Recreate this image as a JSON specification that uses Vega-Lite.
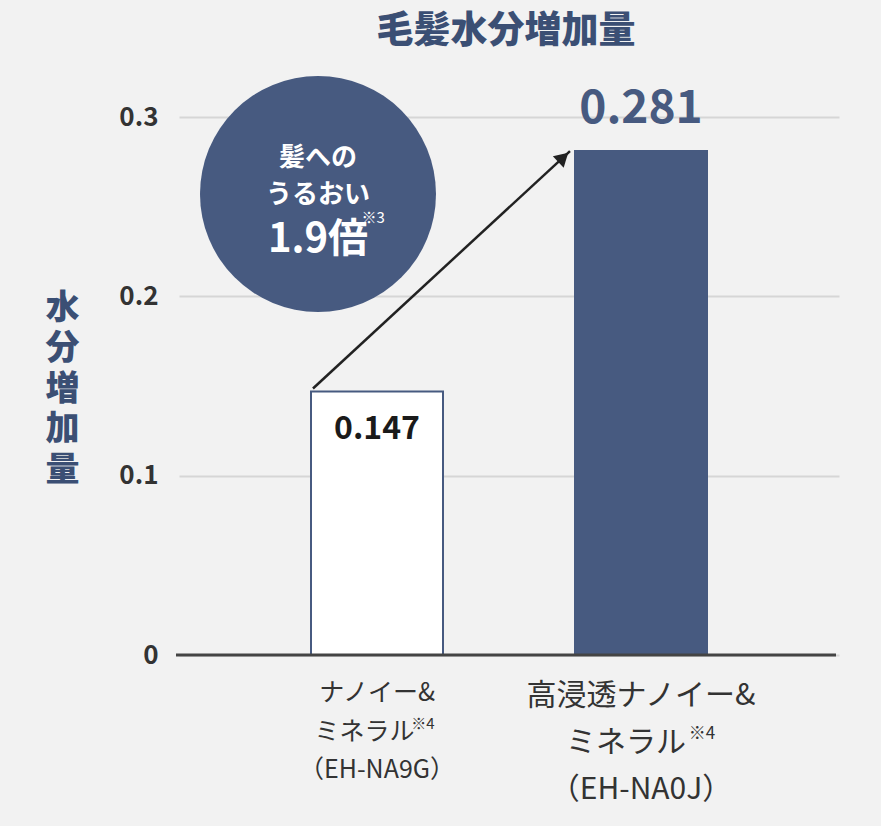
{
  "$schema": "https://vega.github.io/schema/vega-lite/v6.json",
  "width": 660,
  "height": 538,
  "autosize": {"type": "none"},
  "padding": {"left": 176, "top": 117, "right": 45, "bottom": 171},
  "background": "#f2f2f2",
  "config": {"view": {"stroke": null}, "font": "Noto Sans CJK JP"},
  "title": {"text": "毛髪水分増加量", "frame": "group", "anchor": "middle", "fontSize": 37, "fontWeight": 900, "color": "#3b4f74", "offset": 25, "font": "Noto Sans CJK JP"},
  "data": {"values": [
    {"product": "EH-NA9G", "value": 0.147, "label": ["ナノイー&", "ミネラル　\u200b", "（EH-NA9G）"], "note": "※4"},
    {"product": "EH-NA0J", "value": 0.281, "label": ["高浸透ナノイー&", "ミネラル　\u200b", "（EH-NA0J）"], "note": "※4"}
  ]},
  "encoding": {
    "x": {"field": "product", "type": "nominal", "sort": null, "scale": {"paddingInner": 0.5, "paddingOuter": 0.5, "range": [3, 663]}, "axis": null}
  },
  "layer": [
    {
      "mark": {"type": "bar", "stroke": "#475a80", "strokeWidth": 2},
      "encoding": {
        "y": {"field": "value", "type": "quantitative", "scale": {"domain": [0, 0.3]},
          "axis": {"values": [0, 0.1, 0.2, 0.3], "labelExpr": "datum.value == 0 ? '0' : format(datum.value, '.1f')", "labelFontSize": 26, "labelFontWeight": "bold", "labelColor": "#333333", "labelPadding": 18, "ticks": false, "domain": false, "gridColor": "#d6d6d6", "gridWidth": 2,
            "title": ["水", "分", "増", "加", "量"], "titleAngle": 0, "titleFontSize": 34, "titleLineHeight": 40.5, "titleColor": "#3b4f74", "titleFontWeight": 900, "titleX": -114, "titleY": 191, "titleAlign": "center", "titleBaseline": "middle"}},
        "fill": {"condition": {"test": "datum.product == 'EH-NA9G'", "value": "#ffffff"}, "value": "#475a80"}
      }
    },
    {
      "data": {"values": [{}]},
      "mark": {"type": "rule", "color": "#444444", "strokeWidth": 3},
      "encoding": {"x": null, "y": {"datum": 0}}
    },
    {
      "transform": [{"filter": "datum.product == 'EH-NA9G'"}],
      "mark": {"type": "text", "fontSize": 32, "fontWeight": "bold", "color": "#1a1a1a", "baseline": "middle", "dy": 38},
      "encoding": {"y": {"field": "value", "type": "quantitative"}, "text": {"field": "value", "type": "quantitative", "format": ".3f"}}
    },
    {
      "transform": [{"filter": "datum.product == 'EH-NA0J'"}],
      "mark": {"type": "text", "fontSize": 46, "fontWeight": "bold", "color": "#475a80", "baseline": "middle", "dy": -42},
      "encoding": {"y": {"field": "value", "type": "quantitative"}, "text": {"field": "value", "type": "quantitative", "format": ".3f"}}
    },
    {
      "transform": [{"filter": "datum.product == 'EH-NA9G'"}],
      "mark": {"type": "text", "fontSize": 25, "lineHeight": 38.5, "color": "#333333", "baseline": "middle", "dy": 38},
      "encoding": {"y": {"datum": 0}, "text": {"field": "label", "type": "nominal"}}
    },
    {
      "transform": [{"filter": "datum.product == 'EH-NA9G'"}],
      "mark": {"type": "text", "fontSize": 15, "color": "#333333", "baseline": "middle", "dy": 69},
      "encoding": {"x": {"field": "product", "type": "nominal", "sort": null, "bandPosition": 0.848}, "y": {"datum": 0}, "text": {"field": "note", "type": "nominal"}}
    },
    {
      "transform": [{"filter": "datum.product == 'EH-NA0J'"}],
      "mark": {"type": "text", "fontSize": 30, "lineHeight": 47, "color": "#333333", "baseline": "middle", "dy": 41},
      "encoding": {"y": {"datum": 0}, "text": {"field": "label", "type": "nominal"}}
    },
    {
      "transform": [{"filter": "datum.product == 'EH-NA0J'"}],
      "mark": {"type": "text", "fontSize": 17, "color": "#333333", "baseline": "middle", "dy": 79},
      "encoding": {"x": {"field": "product", "type": "nominal", "sort": null, "bandPosition": 0.962}, "y": {"datum": 0}, "text": {"field": "note", "type": "nominal"}}
    },
    {
      "data": {"values": [{}]},
      "mark": {"type": "rule", "color": "#222222", "strokeWidth": 2.5},
      "encoding": {"x": {"datum": "EH-NA9G", "bandPosition": 0.015}, "x2": {"datum": "EH-NA0J", "bandPosition": -0.038}, "y": {"datum": 0.1486}, "y2": {"datum": 0.281}}
    },
    {
      "data": {"values": [{}]},
      "mark": {"type": "point", "shape": "triangle-up", "filled": true, "size": 250, "angle": 47, "color": "#222222", "opacity": 1},
      "encoding": {"x": {"datum": "EH-NA0J", "bandPosition": -0.089}, "y": {"datum": 0.2775}}
    },
    {
      "data": {"values": [{}]},
      "mark": {"type": "point", "shape": "circle", "filled": true, "size": 55696, "color": "#475a80", "opacity": 1},
      "encoding": {"x": {"datum": "EH-NA9G", "bandPosition": 0.053}, "y": {"datum": 0.2571}}
    },
    {
      "data": {"values": [{}]},
      "mark": {"type": "text", "text": ["髪への", "うるおい"], "fontSize": 26, "fontWeight": "bold", "lineHeight": 37, "color": "#ffffff", "baseline": "middle"},
      "encoding": {"x": {"datum": "EH-NA9G", "bandPosition": 0.053}, "y": {"datum": 0.2774}}
    },
    {
      "data": {"values": [{}]},
      "mark": {"type": "text", "text": "1.9倍", "fontSize": 40, "fontWeight": "bold", "color": "#ffffff", "baseline": "middle"},
      "encoding": {"x": {"datum": "EH-NA9G", "bandPosition": 0.053}, "y": {"datum": 0.2314}}
    },
    {
      "data": {"values": [{}]},
      "mark": {"type": "text", "text": "※3", "fontSize": 15, "color": "#ffffff", "baseline": "middle"},
      "encoding": {"x": {"datum": "EH-NA9G", "bandPosition": 0.47}, "y": {"datum": 0.2437}}
    }
  ]
}
